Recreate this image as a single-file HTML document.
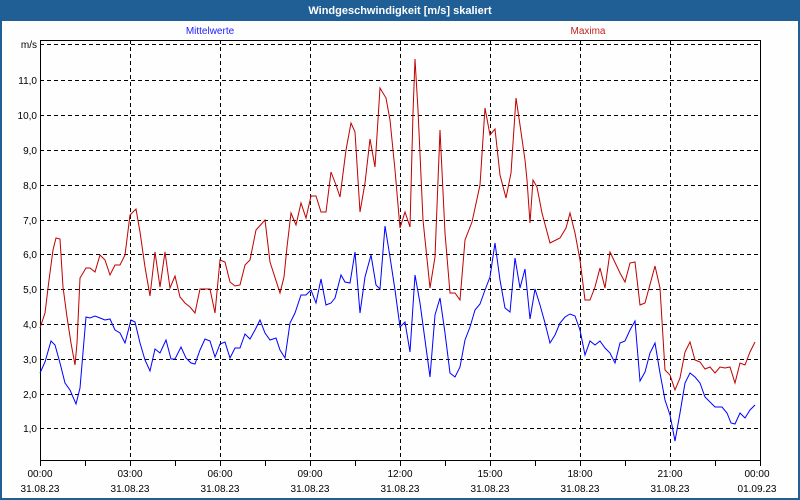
<!DOCTYPE html>
<html><head><meta charset="utf-8"><style>
html,body{margin:0;padding:0;background:#fff}
svg{display:block;font-family:"Liberation Sans",sans-serif}
</style></head><body>
<svg width="800" height="500" viewBox="0 0 800 500" xmlns="http://www.w3.org/2000/svg">
<rect x="0" y="0" width="800" height="500" fill="#1f5f96"/>
<rect x="2" y="21" width="796" height="477" fill="#fdfefd"/>
<text x="400" y="14" fill="#fff" font-size="11" font-weight="bold" text-anchor="middle">Windgeschwindigkeit [m/s] skaliert</text>
<text x="210" y="34" fill="#2020ff" font-size="10" text-anchor="middle">Mittelwerte</text>
<text x="588" y="34" fill="#c02020" font-size="10" text-anchor="middle">Maxima</text>
<g stroke="#000" stroke-width="1" stroke-dasharray="4,3" fill="none">
<path d="M40 44.5H760M40 80.5H760M40 115.5H760M40 150.5H760M40 185.5H760M40 220.5H760M40 254.5H760M40 289.5H760M40 324.5H760M40 359.5H760M40 394.5H760M40 428.5H760"/>
<path d="M130.5 40V460M220.5 40V460M310.5 40V460M400.5 40V460M490.5 40V460M580.5 40V460M670.5 40V460"/>
</g>
<rect x="40.5" y="40.5" width="720" height="420" fill="none" stroke="#000"/>
<g stroke="#000"><path d="M40.5 461V466M85.5 461V466M130.5 461V466M175.5 461V466M220.5 461V466M265.5 461V466M310.5 461V466M355.5 461V466M400.5 461V466M445.5 461V466M490.5 461V466M535.5 461V466M580.5 461V466M625.5 461V466M670.5 461V466M715.5 461V466M760.5 461V466"/></g>
<g font-size="10" fill="#000" text-anchor="end">
<text x="37" y="48">m/s</text><text x="37" y="84">11,0</text><text x="37" y="119">10,0</text><text x="37" y="154">9,0</text><text x="37" y="189">8,0</text><text x="37" y="224">7,0</text><text x="37" y="258">6,0</text><text x="37" y="293">5,0</text><text x="37" y="328">4,0</text><text x="37" y="363">3,0</text><text x="37" y="398">2,0</text><text x="37" y="432">1,0</text>
</g>
<g font-size="10" fill="#000" text-anchor="middle">
<text x="40" y="477">00:00</text><text x="40" y="492">31.08.23</text>
<text x="130" y="477">03:00</text><text x="130" y="492">31.08.23</text>
<text x="220" y="477">06:00</text><text x="220" y="492">31.08.23</text>
<text x="310" y="477">09:00</text><text x="310" y="492">31.08.23</text>
<text x="400" y="477">12:00</text><text x="400" y="492">31.08.23</text>
<text x="490" y="477">15:00</text><text x="490" y="492">31.08.23</text>
<text x="580" y="477">18:00</text><text x="580" y="492">31.08.23</text>
<text x="670" y="477">21:00</text><text x="670" y="492">31.08.23</text>
<text x="757" y="477">00:00</text><text x="757" y="492">01.09.23</text>
</g>
<polyline fill="none" stroke="#c00000" stroke-width="1" points="40,328 45,313 49,280 53,250 56,238 60,239 63,287 67,317 71,343 75,365 77,343 80,278 86,268 90,268 95,272 100,255 105,260 110,275 115,265 120,265 125,255 130,215 136,209 140,232 145,267 150,296 155,252 160,287 165,252 170,288 175,276 180,297 185,303 190,307 195,313 200,289 210,289 215,313 220,260 225,262 230,282 235,286 240,285 245,265 250,260 256,230 265,220 270,262 280,293 284,277 287,247 291,213 296,225 301,203 306,218 311,196 316,196 321,212 326,212 331,172 336,185 340,197 346,150 351,123 355,132 360,212 365,183 370,139 375,167 380,88 386,98 390,120 395,170 400,228 405,212 410,227 413,113 415,59 418,110 423,220 430,288 435,257 440,130 445,233 450,293 455,293 460,300 465,240 472,222 480,185 485,108 490,135 495,129 500,175 506,198 511,173 516,98 520,125 525,160 527,180 530,223 533,180 537,187 542,213 550,243 560,238 566,228 570,213 575,233 580,260 585,300 590,300 595,287 600,268 605,288 610,252 620,273 625,282 630,263 635,262 640,305 645,303 655,266 660,288 665,370 670,375 675,390 680,378 685,352 690,342 695,360 700,362 705,369 710,367 715,373 720,367 725,368 730,367 735,383 740,363 745,365 750,352 755,342"/>
<polyline fill="none" stroke="#0000ff" stroke-width="1" points="40,373 45,362 51,341 55,345 60,363 65,383 70,390 76,404 80,388 86,317 90,318 95,316 100,318 105,320 110,319 115,330 120,333 125,343 131,320 135,322 140,343 145,360 150,371 155,349 160,353 166,340 171,359 175,359 181,347 186,358 191,363 195,364 200,350 205,339 210,341 215,357 220,344 225,342 230,358 235,348 240,348 245,334 250,339 255,330 260,320 265,333 270,340 276,338 280,350 285,358 290,323 295,313 301,295 306,295 311,290 316,303 321,279 326,305 331,303 335,298 341,275 345,282 350,283 355,252 360,313 365,277 371,255 376,285 380,289 385,226 390,257 395,290 400,327 405,322 410,352 415,275 420,303 425,340 430,377 435,315 440,298 445,333 450,373 455,377 460,367 465,340 470,327 475,310 480,304 485,290 490,277 495,243 500,280 505,308 510,312 515,258 520,288 525,269 530,319 535,289 540,305 545,323 550,343 555,335 560,323 565,317 570,314 575,316 580,330 585,355 590,341 595,345 600,341 605,348 610,353 615,363 620,343 625,341 630,330 635,321 640,381 645,372 650,353 655,343 660,373 665,400 670,415 675,441 680,413 685,383 690,373 695,377 700,383 705,397 715,407 722,407 727,413 731,423 735,424 740,413 745,418 750,410 755,405"/>
</svg>
</body></html>
